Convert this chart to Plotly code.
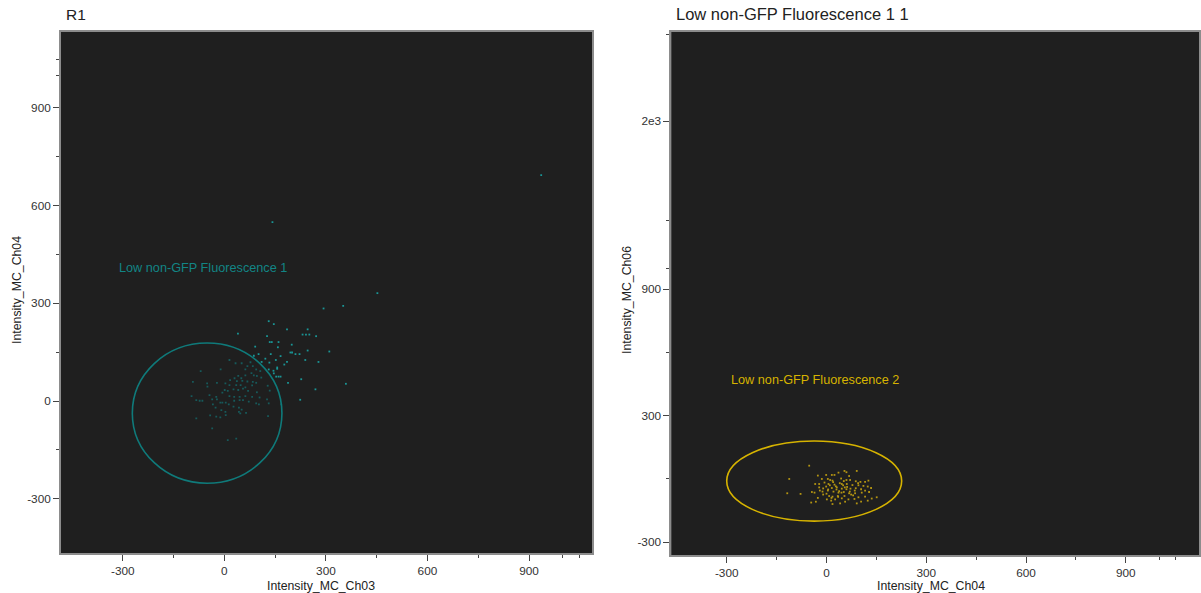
import math
import plotly.graph_objects as go

# ---- scatter events: R1 panel (Ch03 vs Ch04) ----
r1_x = [131, 146, 40, 185, 246, 231, 241, 251, 271, 126,
        134, 140, 160, 199, 91, 158, 195, 200, 210, 222,
        246, 310, 101, 87, 137, 166, 121, 152, 133, 110,
        185, 177, 239, 278, 156, 156, 131, 145, 153, 160,
        166, 146, 227, 188, 359, 269, 224, 168, 134, 142,
        936, 452, 293, 351,
        15, 33, 51, 77, 68, 84, 62, 94, 106, 80,
        41, 30, 50, 62, 87, 96, 109, 84, 68, 53,
        37, 17, 3, 15, 35, 48, 62, 82, 94, 128,
        -51, -50, -22, -70, -93, -11, 1, 10, 27, 41,
        55, 70, 96, -44, -24, -6, 15, 29, 45, 62,
        82, 104, -97, -83, -73, -65, -36, -22, -12, -6,
        4, 13, 29, 45, 55, 72, 94, 102, 131, -34,
        -26, -9, 3, 27, 43, 51, 64, 43, 47, -24,
        -12, -42, -83, 4, -36, 129, 10, 35, 126]
r1_y = [245, 236, 207, 220, 220, 204, 204, 204, 199, 199,
        181, 181, 181, 173, 167, 165, 149, 149, 144, 144,
        155, 152, 144, 139, 144, 138, 130, 126, 118, 120,
        120, 112, 126, 120, 103, 99, 97, 93, 75, 75,
        75, 85, 67, 56, 53, 36, 4, -10, 32, 549,
        693, 331, 284, 292,
        126, 116, 116, 119, 107, 107, 97, 97, 92, 86,
        77, 70, 70, 79, 79, 77, 72, 59, 60, 62,
        61, 64, 54, 49, 49, 49, 42, 48, 56, 47,
        54, 44, 56, 92, 59, 97, 34, 31, 36, 34,
        38, 31, 27, 18, 13, 26, 15, 13, 13, 15,
        13, 11, 15, 3, 1, 1, 5, 5, -5, -5,
        -5, -10, 1, 3, 3, -2, -7, -10, -7, -10,
        -20, -28, -33, -17, -20, -26, -36, -33, -38, -48,
        -50, -44, -53, -43, -84, -46, -120, -115, 5]

# ---- scatter events: second panel (Ch04 vs Ch06) ----
g1_x = [-52, 54, 60, 36, 91, -26, -1, 16, 24, 68,
        -112, -14, 4, 11, 18, 44, 52, 71, 88, 102,
        116, 126, -34, -22, -6, 6, 24, 46, 50, 61,
        78, 96, 111, 124, 134, -22, -1, 16, 31, 46,
        60, 72, 88, 104, 116, -44, -36, -12, 4, 21,
        36, 52, 68, 86, 106, 128, -118, -78, -10, 8,
        18, 34, 54, 74, 96, 116, 136, -26, 1, 26,
        46, 66, 84, 151, -46, -32, 14, 56, 104, 124,
        18, 41, 91,
        10, 30, 40, -10, 20, 55, 70, 0, 35, 85,
        -20, 60, 95, 45, 15, 28, 5, 38, 62, 80]
g1_y = [63, 38, 32, 30, 38, 16, 19, 19, 19, 14,
        0, 0, 0, -5, -8, 2, -10, -5, -11, -14,
        -14, -8, -24, -24, -17, -24, -27, -24, -30, -24,
        -29, -30, -33, -36, -43, -40, -36, -43, -40, -46,
        -49, -46, -44, -49, -55, -62, -65, -60, -55, -60,
        -65, -62, -68, -68, -65, -62, -68, -71, -74, -81,
        -84, -81, -81, -74, -87, -84, -93, -90, -97, -97,
        -92, -97, -95, -87, -112, -108, -103, -108, -108, -103,
        -119, -116, -116,
        -30, -50, -20, -45, -15, -40, -60, -70, -85, -55,
        -55, -5, -20, -65, -90, -35, -50, -58, -38, -78]

# ---- gates: centre (x, y) and radii (x, y) in data units ----
gate1_center = [-51, -37]
gate1_radius = [221, 215]
gate1_label = "Low non-GFP Fluorescence 1"
gate1_label_pos = [-318, 408]

gate2_center = [-37, -10]
gate2_radius = [263, 190]
gate2_label = "Low non-GFP Fluorescence 2"
gate2_label_pos = [-294, 470]

# ---- axis ticks ----
lin_major = [-300, 0, 300, 600, 900]
lin_minor = [-150, 150, 450, 750, 1000, 2000]
ch06_major = [-300, 300, 900, 2000]
ch06_major_text = ["-300", "300", "900", "2e3"]
ch06_minor = [0, 600, 1000, 1250, 3000]


def hyperlog(v, lin_limit, decade_width):
    """Linear below lin_limit, logarithmic above it."""
    if v <= lin_limit:
        return v
    return lin_limit + decade_width * math.log(v / lin_limit)


def scale(values, k, limit=1000):
    return [hyperlog(v, limit, k) for v in values]


K_R1X, K_R1Y, K_G1X, K_G1Y = 72, 70, 72, 1008

TEAL_LINE = "#0f7a7a"
TEAL_IN = "#17595a"
TEAL_OUT = "#1a9595"
YELLOW = "#d6b300"
YELLOW_PT = "#b39412"
BG = "#1f1f1f"
FONT = "Liberation Sans, Arial, sans-serif"

# split R1 events by gate membership
in_x, in_y, out_x, out_y = [], [], [], []
for xv, yv in zip(r1_x, r1_y):
    d = ((xv - gate1_center[0]) / gate1_radius[0]) ** 2 + \
        ((yv - gate1_center[1]) / gate1_radius[1]) ** 2
    if d <= 1:
        in_x.append(xv); in_y.append(yv)
    else:
        out_x.append(xv); out_y.append(yv)

fig = go.Figure()
mk = dict(symbol="square", size=1.8, line=dict(width=0))
fig.add_trace(go.Scatter(x=scale(in_x, K_R1X), y=scale(in_y, K_R1Y), mode="markers",
                         marker=dict(color=TEAL_IN, **mk), xaxis="x", yaxis="y",
                         showlegend=False, hoverinfo="skip"))
fig.add_trace(go.Scatter(x=scale(out_x, K_R1X), y=scale(out_y, K_R1Y), mode="markers",
                         marker=dict(color=TEAL_OUT, **mk), xaxis="x", yaxis="y",
                         showlegend=False, hoverinfo="skip"))
fig.add_trace(go.Scatter(x=scale(g1_x, K_G1X), y=scale(g1_y, K_G1Y), mode="markers",
                         marker=dict(color=YELLOW_PT, **mk), xaxis="x2", yaxis="y2",
                         showlegend=False, hoverinfo="skip"))

# gates
fig.add_shape(type="circle", xref="x", yref="y",
              x0=gate1_center[0] - gate1_radius[0], x1=gate1_center[0] + gate1_radius[0],
              y0=gate1_center[1] - gate1_radius[1], y1=gate1_center[1] + gate1_radius[1],
              line=dict(color=TEAL_LINE, width=1.6))
fig.add_shape(type="circle", xref="x2", yref="y2",
              x0=gate2_center[0] - gate2_radius[0], x1=gate2_center[0] + gate2_radius[0],
              y0=gate2_center[1] - gate2_radius[1], y1=gate2_center[1] + gate2_radius[1],
              line=dict(color=YELLOW, width=1.6))

fig.add_annotation(x=gate1_label_pos[0], y=gate1_label_pos[1], xref="x", yref="y",
                   text=gate1_label, showarrow=False, xanchor="left", yanchor="middle",
                   font=dict(family=FONT, size=12.7, color="#128585"))
fig.add_annotation(x=gate2_label_pos[0], y=gate2_label_pos[1], xref="x2", yref="y2",
                   text=gate2_label, showarrow=False, xanchor="left", yanchor="middle",
                   font=dict(family=FONT, size=12.7, color=YELLOW))


def axis(domain, rng, major, major_text, minor, anchor):
    return dict(domain=domain, range=rng, anchor=anchor,
                tickmode="array", tickvals=major, ticktext=major_text,
                ticks="outside", ticklen=6, tickwidth=1, tickcolor="#444",
                minor=dict(tickmode="array", tickvals=minor, ticks="outside",
                           ticklen=3, tickwidth=1, tickcolor="#444", showgrid=False),
                showgrid=False, zeroline=False,
                showline=True, mirror=True, linecolor="#8c8c8c", linewidth=1.5,
                tickfont=dict(family=FONT, size=11.8, color="#333"))


W, H = 1201, 593
lx = [61 / W, 593.3 / W]
rx = [672.3 / W, 1.0]
ly = [(H - 553) / H, (H - 32) / H]
ry = [(H - 555) / H, (H - 31.7) / H]

fig.update_layout(
    width=W, height=H, margin=dict(l=0, r=0, t=0, b=0),
    paper_bgcolor="white", plot_bgcolor=BG,
    font=dict(family=FONT, color="#333"),
    xaxis=axis(lx, [-483, 1087], lin_major, [str(v) for v in lin_major],
               scale(lin_minor, K_R1X), "y"),
    yaxis=axis(ly, [-466, 1132], lin_major, [str(v) for v in lin_major],
               scale(lin_minor, K_R1Y), "x"),
    xaxis2=axis(rx, [-467, 1120], lin_major, [str(v) for v in lin_major],
                scale(lin_minor, K_G1X), "y2"),
    yaxis2=axis(ry, [-361, 2123], scale(ch06_major, K_G1Y), ch06_major_text,
                scale(ch06_minor, K_G1Y), "x2"),
)

# panel titles and axis titles
texts = [
    ("R1", 64 / W, 1 - 14 / H, 15.5, 0, "left"),
    ("Low non-GFP Fluorescence 1 1", 675 / W, 1 - 14 / H, 16.5, 0, "left"),
    ("Intensity_MC_Ch03", 322 / W, 1 - 586 / H, 12.3, 0, "center"),
    ("Intensity_MC_Ch04", 933 / W, 1 - 586 / H, 12.3, 0, "center"),
    ("Intensity_MC_Ch04", 17 / W, 1 - 290 / H, 12.3, -90, "center"),
    ("Intensity_MC_Ch06", 628 / W, 1 - 300 / H, 12.3, -90, "center"),
]
for t, x, y, s, ang, xa in texts:
    fig.add_annotation(x=x, y=y, xref="paper", yref="paper", text=t, showarrow=False,
                       xanchor=xa, yanchor="middle", textangle=ang,
                       font=dict(family=FONT, size=s, color="#222"))

fig.write_html("out.html")
